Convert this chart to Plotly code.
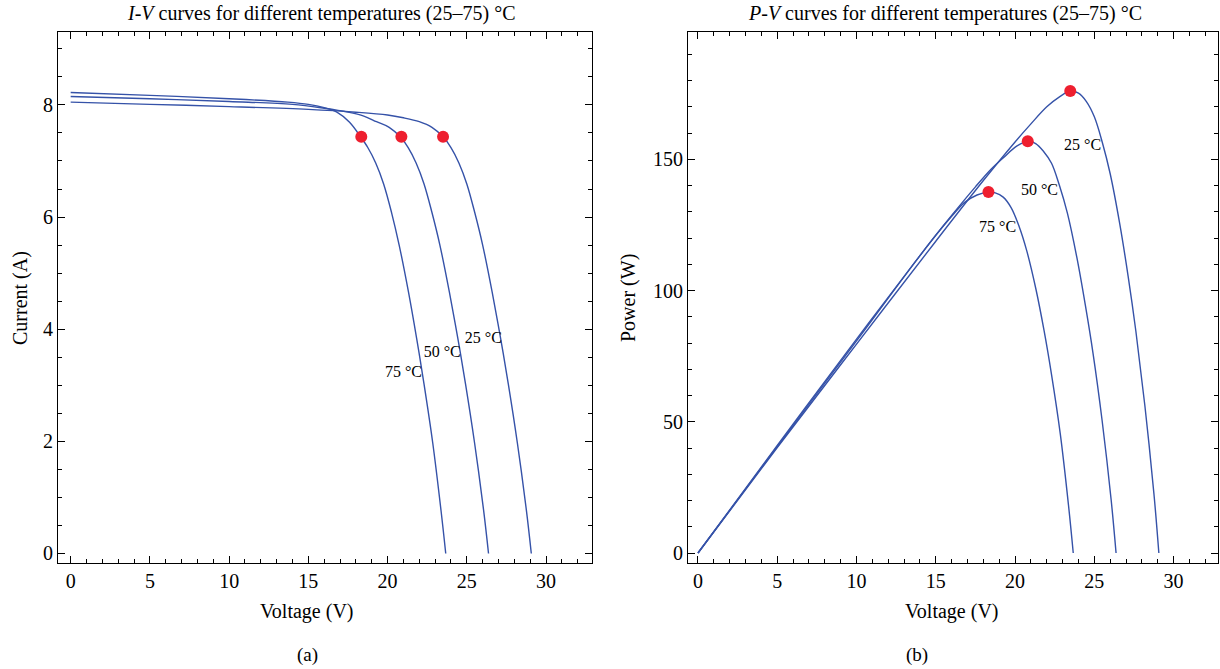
import plotly.graph_objects as go

# ---------------- data ----------------
temps = ["25 °C", "50 °C", "75 °C"]

# I-V curves (voltage V, current A)
iv_v_25 = [0, 5, 10, 15, 18, 20, 21, 22, 22.8, 23.5, 24.0, 24.5, 25.0, 25.5, 26.0, 26.6, 27.13, 27.62, 28.19, 28.76, 29.07]
iv_i_25 = [8.05, 8.01, 7.97, 7.92, 7.87, 7.82, 7.77, 7.70, 7.60, 7.43, 7.24, 6.965, 6.59, 6.08, 5.50, 4.66, 3.84, 3.02, 1.97, 0.77, 0]

iv_v_50 = [0, 5, 10, 14, 16, 17.5, 18.5, 19.3, 20.1, 20.8, 21.3, 21.8, 22.3, 22.8, 23.3, 23.9, 24.43, 24.92, 25.49, 26.06, 26.37]
iv_i_50 = [8.15, 8.11, 8.06, 8.01, 7.94, 7.87, 7.80, 7.70, 7.60, 7.43, 7.24, 6.965, 6.59, 6.08, 5.50, 4.66, 3.84, 3.02, 1.97, 0.77, 0]

iv_v_75 = [0, 5, 10, 13.7, 15.0, 16.0, 16.8, 17.6, 18.3, 18.75, 19.25, 19.75, 20.25, 20.73, 21.32, 21.83, 22.3, 22.85, 23.37, 23.67]
iv_i_75 = [8.22, 8.17, 8.11, 8.05, 8.01, 7.95, 7.87, 7.69, 7.43, 7.24, 6.965, 6.59, 6.08, 5.50, 4.66, 3.84, 3.02, 1.97, 0.77, 0]

# P-V curves (voltage V, power W)
pv_v_25 = [0, 5, 10, 15, 18, 20, 21, 22, 22.8, 23.5, 24.0, 24.5, 25.0, 25.5, 26.0, 26.6, 27.13, 27.62, 28.19, 28.76, 29.07]
pv_p_25 = [0, 40.2, 79.6, 118.8, 141.9, 156.6, 163.5, 170, 173.8, 176, 175.2, 172, 166.2, 156.5, 144.5, 125.5, 105.5, 84.5, 56, 22.5, 0]

pv_v_50 = [0, 5, 10, 14, 16, 17.5, 18.5, 19.3, 20.1, 20.8, 21.3, 21.8, 22.3, 22.8, 23.3, 23.9, 24.43, 24.92, 25.49, 26.06, 26.37]
pv_p_50 = [0, 40.6, 80.8, 113.3, 128.6, 139.5, 146.3, 150.8, 155, 156.9, 156, 153, 148.5, 140, 129.5, 112.5, 94.5, 76, 50.5, 20.3, 0]

pv_v_75 = [0, 5, 10, 13.7, 15.0, 16.0, 16.8, 17.6, 18.3, 18.75, 19.25, 19.75, 20.25, 20.73, 21.32, 21.83, 22.3, 22.85, 23.37, 23.67]
pv_p_75 = [0, 41.0, 81.5, 110.9, 121.1, 128.3, 133.5, 136.4, 137.5, 137.2, 135.6, 131.6, 124.5, 115.3, 100.4, 84.7, 68.0, 45.5, 18.2, 0]

# maximum power points
mpp_iv_v = [23.5, 20.87, 18.34]
mpp_iv_i = [7.43, 7.43, 7.43]
mpp_pv_v = [23.48, 20.8, 18.32]
mpp_pv_p = [176.0, 156.9, 137.5]

# label positions
lab_iv_v = [26.04, 23.45, 21.0]
lab_iv_i = [3.83, 3.58, 3.22]
lab_pv_v = [24.26, 21.54, 18.9]
lab_pv_p = [155, 137.8, 124]

x_ticks = [0, 5, 10, 15, 20, 25, 30]
iv_y_ticks = [0, 2, 4, 6, 8]
pv_y_ticks = [0, 50, 100, 150]

# ---------------- figure ----------------
LINE = "#3552a8"
RED = "#ee1f2f"
FONT = "Liberation Serif"

fig = go.Figure()

iv_sets = [(iv_v_25, iv_i_25), (iv_v_50, iv_i_50), (iv_v_75, iv_i_75)]
pv_sets = [(pv_v_25, pv_p_25), (pv_v_50, pv_p_50), (pv_v_75, pv_p_75)]

for (vx, iy) in iv_sets:
    fig.add_trace(go.Scatter(x=vx, y=iy, mode="lines", xaxis="x", yaxis="y",
                             line=dict(color=LINE, width=1.4, shape="spline", smoothing=1.0),
                             showlegend=False, hoverinfo="skip"))
for (vx, py) in pv_sets:
    fig.add_trace(go.Scatter(x=vx, y=py, mode="lines", xaxis="x2", yaxis="y2",
                             line=dict(color=LINE, width=1.4, shape="spline", smoothing=1.0),
                             showlegend=False, hoverinfo="skip"))

fig.add_trace(go.Scatter(x=mpp_iv_v, y=mpp_iv_i, mode="markers", xaxis="x", yaxis="y",
                         marker=dict(color=RED, size=12), showlegend=False))
fig.add_trace(go.Scatter(x=mpp_pv_v, y=mpp_pv_p, mode="markers", xaxis="x2", yaxis="y2",
                         marker=dict(color=RED, size=12), showlegend=False))

fig.add_trace(go.Scatter(x=lab_iv_v, y=lab_iv_i, mode="text", text=temps, xaxis="x", yaxis="y",
                         textfont=dict(family=FONT, size=16, color="black"), showlegend=False))
fig.add_trace(go.Scatter(x=lab_pv_v, y=lab_pv_p, mode="text", text=temps, xaxis="x2", yaxis="y2",
                         textfont=dict(family=FONT, size=16, color="black"), showlegend=False))

def ax(domain, rng, tickvals, minor_dtick, anchor):
    return dict(domain=domain, range=rng, tickvals=tickvals, ticks="inside", ticklen=7,
                tickcolor="black", showline=True, linecolor="black", linewidth=1.2,
                mirror="ticks", showgrid=False, zeroline=False, anchor=anchor,
                tickfont=dict(family=FONT, size=20, color="black"),
                minor=dict(ticks="inside", ticklen=4, tickcolor="black", dtick=minor_dtick, showgrid=False))

yd = [1 - 563 / 669, 1 - 32 / 669]
fig.update_layout(
    width=1220, height=669,
    margin=dict(l=0, r=0, t=0, b=0),
    paper_bgcolor="white", plot_bgcolor="white",
    xaxis=ax([58 / 1220, 592 / 1220], [-0.8, 32.9], x_ticks, 1, "y"),
    yaxis=ax(yd, [-0.17, 9.3], iv_y_ticks, 0.5, "x"),
    xaxis2=ax([688 / 1220, 1218 / 1220], [-0.63, 32.8], x_ticks, 1, "y2"),
    yaxis2=ax(yd, [-3.8, 198.5], pv_y_ticks, 10, "x2"),
)

def ann(text, x, y, size=20, angle=0):
    fig.add_annotation(text=text, x=x / 1220, y=1 - y / 669, xref="paper", yref="paper",
                       showarrow=False, textangle=angle, xanchor="center", yanchor="middle",
                       font=dict(family=FONT, size=size, color="black"))

ann("<i>I</i>-<i>V</i> curves for different temperatures (25–75) °C", 321, 14)
ann("<i>P</i>-<i>V</i> curves for different temperatures (25–75) °C", 945, 14)
ann("Current (A)", 20, 298, angle=-90)
ann("Power (W)", 628, 298, angle=-90)
ann("Voltage (V)", 307, 611)
ann("Voltage (V)", 952, 611)
ann("(a)", 307, 655, size=19)
ann("(b)", 917, 655, size=19)

fig.write_html("out.html", config={"displayModeBar": False},
               post_script="document.body.style.margin='0';document.body.style.overflow='hidden';")
